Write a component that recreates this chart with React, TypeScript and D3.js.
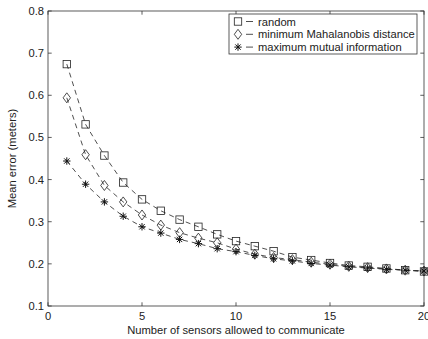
import { useEffect, useRef } from "react";
import * as d3 from "d3";

const sensors = [1, 2, 3, 4, 5, 6, 7, 8, 9, 10, 11, 12, 13, 14, 15, 16, 17, 18, 19, 20];
const randomErr = [0.674, 0.531, 0.457, 0.393, 0.353, 0.326, 0.305, 0.288, 0.270, 0.254, 0.242, 0.230, 0.216, 0.209, 0.202, 0.196, 0.193, 0.189, 0.185, 0.182];
const mahalanobisErr = [0.594, 0.459, 0.386, 0.347, 0.316, 0.292, 0.274, 0.261, 0.250, 0.235, 0.223, 0.215, 0.210, 0.204, 0.199, 0.194, 0.191, 0.188, 0.185, 0.183];
const mutualInfoErr = [0.444, 0.389, 0.347, 0.313, 0.288, 0.273, 0.258, 0.248, 0.236, 0.229, 0.220, 0.212, 0.207, 0.201, 0.197, 0.193, 0.190, 0.187, 0.185, 0.183];
const seriesNames = ["random", "minimum Mahalanobis distance", "maximum mutual information"];
const markerTypes = ["square", "diamond", "star"];
const xTicks = [0, 5, 10, 15, 20];
const yTicks = [0.1, 0.2, 0.3, 0.4, 0.5, 0.6, 0.7, 0.8];

const W = 428;
const H = 339;

const drawMarker = (g, type, cx, cy) => {
  if (type === "square") {
    g.append("rect")
      .attr("x", cx - 3.7).attr("y", cy - 3.7)
      .attr("width", 7.4).attr("height", 7.4)
      .attr("fill", "none").attr("stroke", "#222").attr("stroke-width", 0.8);
  } else if (type === "diamond") {
    g.append("path")
      .attr("d", `M${cx},${cy - 5}L${cx + 3.7},${cy}L${cx},${cy + 5}L${cx - 3.7},${cy}Z`)
      .attr("fill", "none").attr("stroke", "#222").attr("stroke-width", 0.8);
  } else {
    const r = 3.7;
    const d = r * 0.72;
    g.append("path")
      .attr("d", `M${cx - r},${cy}L${cx + r},${cy}M${cx},${cy - r}L${cx},${cy + r}` +
        `M${cx - d},${cy - d}L${cx + d},${cy + d}M${cx - d},${cy + d}L${cx + d},${cy - d}`)
      .attr("fill", "none").attr("stroke", "#111").attr("stroke-width", 1);
  }
};

export default function App() {
  const ref = useRef(null);

  useEffect(() => {
    const svg = d3.select(ref.current);
    svg.selectAll("*").remove();

    const marginLeft = 48, marginRight = 4, marginTop = 11, marginBottom = 33;
    const x = d3.scaleLinear([0, 20], [marginLeft, W - marginRight]);
    const y = d3.scaleLinear([0.1, 0.8], [H - marginBottom, marginTop]);
    const font = "'Liberation Sans', Arial, Helvetica, sans-serif";
    const fs = 11.2;
    const tick = 3.7;

    // axes box
    svg.append("rect")
      .attr("x", x(0)).attr("y", y(0.8))
      .attr("width", x(20) - x(0)).attr("height", y(0.1) - y(0.8))
      .attr("fill", "none").attr("stroke", "#333").attr("stroke-width", 0.8);

    const ticks = svg.append("g").attr("stroke", "#333").attr("stroke-width", 0.8);
    xTicks.forEach(t => {
      ticks.append("line").attr("x1", x(t)).attr("x2", x(t)).attr("y1", y(0.1)).attr("y2", y(0.1) - tick);
      ticks.append("line").attr("x1", x(t)).attr("x2", x(t)).attr("y1", y(0.8)).attr("y2", y(0.8) + tick);
    });
    yTicks.forEach(t => {
      ticks.append("line").attr("x1", x(0)).attr("x2", x(0) + tick).attr("y1", y(t)).attr("y2", y(t));
      ticks.append("line").attr("x1", x(20)).attr("x2", x(20) - tick).attr("y1", y(t)).attr("y2", y(t));
    });

    svg.append("g").selectAll("text").data(xTicks).join("text")
      .attr("x", d => x(d)).attr("y", y(0.1) + 14)
      .attr("text-anchor", "middle")
      .attr("font-family", font).attr("font-size", fs).attr("fill", "#222")
      .text(d => String(d));

    svg.append("g").selectAll("text").data(yTicks).join("text")
      .attr("x", x(0) - 4).attr("y", d => y(d) + 4)
      .attr("text-anchor", "end")
      .attr("font-family", font).attr("font-size", fs).attr("fill", "#222")
      .text(d => d3.format(".1f")(d));

    svg.append("text")
      .attr("x", (x(0) + x(20)) / 2).attr("y", H - 5)
      .attr("text-anchor", "middle")
      .attr("font-family", font).attr("font-size", fs).attr("fill", "#222")
      .text("Number of sensors allowed to communicate");

    svg.append("text")
      .attr("transform", `translate(16,${(y(0.1) + y(0.8)) / 2}) rotate(-90)`)
      .attr("text-anchor", "middle")
      .attr("font-family", font).attr("font-size", fs).attr("fill", "#222")
      .text("Mean error (meters)");

    const allSeries = [randomErr, mahalanobisErr, mutualInfoErr];
    const line = d3.line().x(d => x(d[0])).y(d => y(d[1]));

    allSeries.forEach((vals, k) => {
      const pts = sensors.map((s, i) => [s, vals[i]]);
      svg.append("path")
        .attr("d", line(pts))
        .attr("fill", "none").attr("stroke", "#222").attr("stroke-width", 0.8)
        .attr("stroke-dasharray", "5,4");
      const mg = svg.append("g");
      pts.forEach(p => drawMarker(mg, markerTypes[k], x(p[0]), y(p[1])));
    });

    // legend
    const lx = 229, ly = 14, lw = 188, lh = 40;
    const lg = svg.append("g");
    lg.append("rect")
      .attr("x", lx).attr("y", ly).attr("width", lw).attr("height", lh)
      .attr("fill", "#fff").attr("stroke", "#333").attr("stroke-width", 0.8);
    seriesNames.forEach((name, k) => {
      const ry = ly + 7.5 + k * 12.8;
      drawMarker(lg, markerTypes[k], lx + 9, ry);
      lg.append("line")
        .attr("x1", lx + 17).attr("x2", lx + 24).attr("y1", ry).attr("y2", ry)
        .attr("stroke", "#222").attr("stroke-width", 0.8);
      lg.append("text")
        .attr("x", lx + 29).attr("y", ry + 4)
        .attr("font-family", font).attr("font-size", fs).attr("fill", "#222")
        .text(name);
    });
  }, []);

  return (
    <svg ref={ref} width={W} height={H}
      style={{ position: "absolute", left: 0, top: 0, background: "#fff" }} />
  );
}
